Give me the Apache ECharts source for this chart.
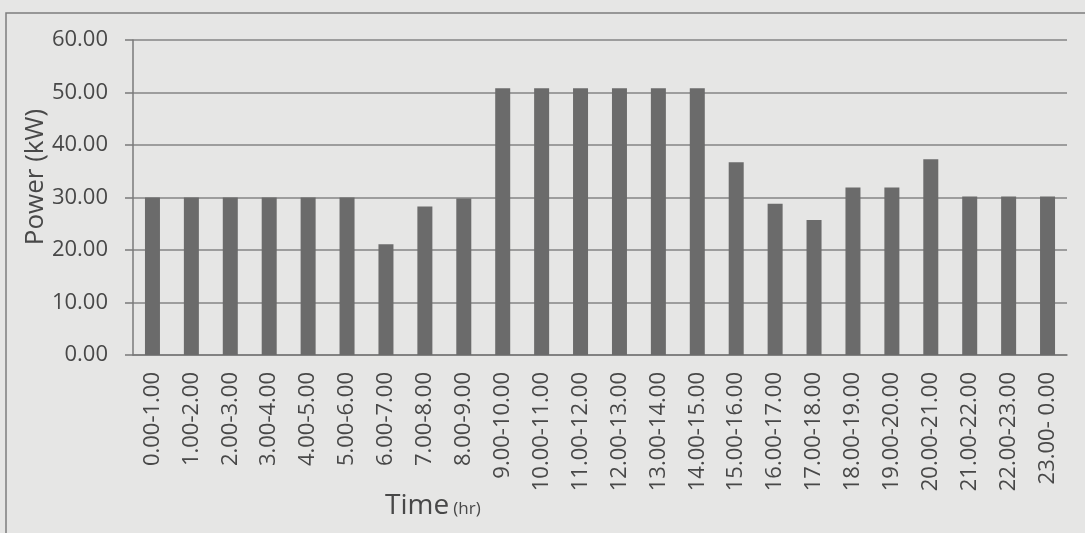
<!DOCTYPE html>
<html>
<head>
<meta charset="utf-8">
<script src="https://cdn.jsdelivr.net/npm/echarts@6/dist/echarts.min.js"></script>
<style>
html,body{margin:0;padding:0;background:#e6e6e5;}
#chart{width:1085px;height:533px;}
</style>
</head>
<body>
<div id="chart"></div>
<script>
const categories = ['0.00-1.00','1.00-2.00','2.00-3.00','3.00-4.00','4.00-5.00','5.00-6.00','6.00-7.00','7.00-8.00','8.00-9.00','9.00-10.00','10.00-11.00','11.00-12.00','12.00-13.00','13.00-14.00','14.00-15.00','15.00-16.00','16.00-17.00','17.00-18.00','18.00-19.00','19.00-20.00','20.00-21.00','21.00-22.00','22.00-23.00','23.00- 0.00'];
const powerKW = [30,30,30,30,30,30,21.1,28.3,29.8,50.8,50.8,50.8,50.8,50.8,50.8,36.7,28.8,25.7,31.9,31.9,37.3,30.2,30.2,30.2];
const yTicks = {min:0, max:60, interval:10};
const yTitle = 'Power (kW)';
const xTitleMain = 'Time';
const xTitleUnit = '(hr)';

const font = '"Open Sans", "DejaVu Sans", sans-serif';
const chart = echarts.init(document.getElementById('chart'), null, {renderer:'canvas'});
chart.setOption({
  backgroundColor:'#e6e6e5',
  animation:false,
  grid:{left:133, right:18, top:40, bottom:178, containLabel:false},
  xAxis:{
    type:'category',
    data:categories,
    axisLine:{show:true, lineStyle:{color:'#7a7a7a', width:1.5}},
    axisTick:{show:false},
    axisLabel:{rotate:90, margin:17, fontSize:22, fontFamily:font, color:'#484848'},
    splitLine:{show:false}
  },
  yAxis:{
    type:'value',
    min:yTicks.min, max:yTicks.max, interval:yTicks.interval,
    axisLine:{show:true, lineStyle:{color:'#7a7a7a', width:1.5}},
    axisTick:{show:true, length:8, lineStyle:{color:'#7a7a7a', width:1.5}},
    axisLabel:{margin:25, fontSize:22, fontFamily:font, color:'#484848',
      formatter:v=>v.toFixed(2)},
    splitLine:{show:true, lineStyle:{color:'#858585', width:1.5}}
  },
  series:[{
    type:'bar',
    data:powerKW,
    barWidth:15,
    itemStyle:{color:'#6b6b6b'}
  }],
  graphic:[
    {type:'rect', shape:{x:6, y:13, width:1100, height:540}, style:{fill:null, stroke:'#7d7d7d', lineWidth:1.5}, silent:true, z:-1},
    {type:'text', x:36, y:177, rotation:Math.PI/2,
      style:{text:yTitle, font:'26px '+font, fill:'#484848', textAlign:'center', textVerticalAlign:'middle'}},
    {type:'text', x:385, y:506,
      style:{text:'{a|'+xTitleMain+'}{s| }{b|'+xTitleUnit+'}', textAlign:'left', textVerticalAlign:'middle', fill:'#484848',
        rich:{a:{fontSize:28, fontFamily:font, fill:'#484848', color:'#484848'}, s:{fontSize:16, fontFamily:font}, b:{fontSize:17, fontFamily:font, fill:'#484848', color:'#484848', padding:[6,0,0,0]}}}}
  ]
});
</script>
</body>
</html>
